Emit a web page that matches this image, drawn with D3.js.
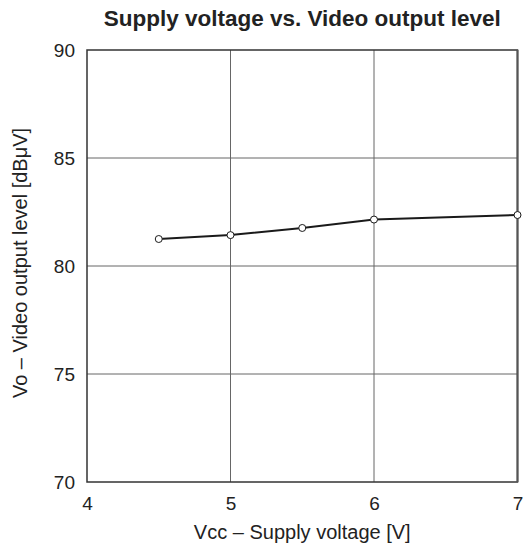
<!DOCTYPE html>
<html>
<head>
<meta charset="utf-8">
<script src="https://cdn.jsdelivr.net/npm/d3@7"></script>
<style>
  body { margin: 0; background: #fff; }
  text { font-family: "Liberation Sans", Arial, sans-serif; fill: #222; }
</style>
</head>
<body>
<div id="chart"></div>
<script>
var vcc = [4.5, 5, 5.5, 6, 7];
var vo = [81.25, 81.43, 81.76, 82.15, 82.36];
var xTicks = [4, 5, 6, 7];
var yTicks = [70, 75, 80, 85, 90];

var W = 524, H = 548;
var margin = {top: 50, right: 6.5, bottom: 66, left: 87};
var width = W - margin.left - margin.right,
    height = H - margin.top - margin.bottom;

var svg = d3.select("#chart").append("svg")
    .attr("width", W)
    .attr("height", H);

var g = svg.append("g")
    .attr("transform", "translate(" + margin.left + "," + margin.top + ")");

var x = d3.scaleLinear().domain([4, 7]).range([0, width]);
var y = d3.scaleLinear().domain([70, 90]).range([height, 0]);

// grid
g.append("g").selectAll("line")
  .data(xTicks.slice(1, -1))
  .enter().append("line")
    .attr("x1", d => x(d)).attr("x2", d => x(d))
    .attr("y1", 0).attr("y2", height)
    .attr("stroke", "#666").attr("stroke-width", 1);
g.append("g").selectAll("line")
  .data(yTicks.slice(1, -1))
  .enter().append("line")
    .attr("x1", 0).attr("x2", width)
    .attr("y1", d => y(d)).attr("y2", d => y(d))
    .attr("stroke", "#666").attr("stroke-width", 1);

// frame
g.append("rect")
  .attr("x", 0).attr("y", 0)
  .attr("width", width).attr("height", height)
  .attr("fill", "none")
  .attr("stroke", "#333")
  .attr("stroke-width", 1.5);
g.append("line")
  .attr("x1", width).attr("x2", width)
  .attr("y1", 0).attr("y2", height)
  .attr("stroke", "#555")
  .attr("stroke-width", 2);

// axes (labels only)
var xAxis = g.append("g")
  .attr("transform", "translate(0," + height + ")")
  .call(d3.axisBottom(x).tickValues(xTicks).tickFormat(d3.format("d")).tickSize(0).tickPadding(15));
var yAxis = g.append("g")
  .call(d3.axisLeft(y).tickValues(yTicks).tickFormat(d3.format("d")).tickSize(0).tickPadding(12));
[xAxis, yAxis].forEach(function(a) {
  a.select(".domain").remove();
  a.selectAll("text")
    .style("font-family", "'Liberation Sans', Arial, sans-serif")
    .style("font-size", "19px")
    .attr("fill", "#222");
});

// line
g.append("path")
  .datum(d3.zip(vcc, vo))
  .attr("fill", "none")
  .attr("stroke", "#1a1a1a")
  .attr("stroke-width", 2)
  .attr("d", d3.line().x(d => x(d[0])).y(d => y(d[1])));

g.selectAll("circle.pt")
  .data(d3.zip(vcc, vo))
  .enter().append("circle")
    .attr("class", "pt")
    .attr("cx", d => x(d[0]))
    .attr("cy", d => y(d[1]))
    .attr("r", 3.5)
    .attr("fill", "#fff")
    .attr("stroke", "#1a1a1a")
    .attr("stroke-width", 1);

// titles
svg.append("text")
  .attr("x", margin.left + width / 2)
  .attr("y", 26)
  .attr("text-anchor", "middle")
  .style("font-size", "22.5px")
  .style("font-weight", "bold")
  .text("Supply voltage vs. Video output level");

svg.append("text")
  .attr("x", margin.left + width / 2)
  .attr("y", 539)
  .attr("text-anchor", "middle")
  .style("font-size", "20px")
  .text("Vcc \u2013 Supply voltage [V]");

svg.append("text")
  .attr("transform", "translate(27," + 263 + ") rotate(-90)")
  .attr("text-anchor", "middle")
  .style("font-size", "20px")
  .text("Vo \u2013 Video output level [dB\u03bcV]");
</script>
</body>
</html>
